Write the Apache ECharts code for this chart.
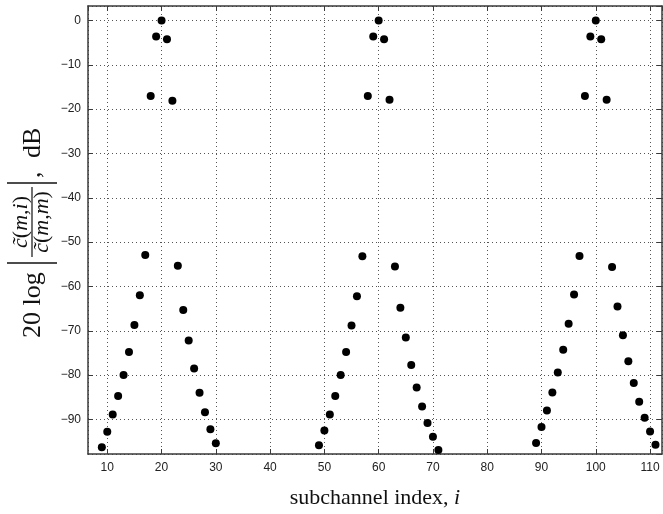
<!DOCTYPE html>
<html>
<head>
<meta charset="utf-8">
<script src="https://cdn.jsdelivr.net/npm/echarts@6/dist/echarts.min.js"></script>
<style>
html,body{margin:0;padding:0;background:#fff;}
#chart{width:663px;height:514px;}
</style>
</head>
<body>
<div id="chart"></div>
<script>
// subchannel indices and normalised levels (dB)
var group1Index = [9,10,11,12,13,14,15,16,17,18,19,20,21,22,23,24,25,26,27,28,29,30];
var group1Level = [-96.3,-92.8,-88.9,-84.7,-80.0,-74.8,-68.7,-62.0,-52.9,-17.0,-3.6,0,-4.2,-18.1,-55.3,-65.3,-72.2,-78.5,-84.0,-88.4,-92.2,-95.4];

var group2Index = [49,50,51,52,53,54,55,56,57,58,59,60,61,62,63,64,65,66,67,68,69,70,71];
var group2Level = [-95.8,-92.5,-88.9,-84.7,-80.0,-74.8,-68.8,-62.2,-53.2,-17.0,-3.6,0,-4.2,-17.9,-55.5,-64.8,-71.5,-77.7,-82.8,-87.1,-90.8,-93.9,-96.9];

var group3Index = [89,90,91,92,93,94,95,96,97,98,99,100,101,102,103,104,105,106,107,108,109,110,111];
var group3Level = [-95.3,-91.7,-88.0,-83.9,-79.4,-74.3,-68.4,-61.8,-53.1,-17.0,-3.6,0,-4.2,-17.9,-55.6,-64.5,-71.0,-76.9,-81.8,-86.0,-89.6,-92.7,-95.7];

var xTickLabels = ['10','20','30','40','50','60','70','80','90','100','110'];
var yTickLabels = ['0','\u221210','\u221220','\u221230','\u221240','\u221250','\u221260','\u221270','\u221280','\u221290'];

function pairs(xs, ys) {
  var out = [];
  for (var k = 0; k < xs.length; k++) out.push([xs[k], ys[k]]);
  return out;
}
var points = pairs(group1Index, group1Level)
  .concat(pairs(group2Index, group2Level))
  .concat(pairs(group3Index, group3Level));

var X_MIN = 6.45, X_MAX = 112.2, Y_MIN = -97.8, Y_MAX = 3.28;
var frameColor = '#3a3a3a';
var serif = '"Liberation Serif", "DejaVu Serif", serif';
var sans = '"Liberation Sans", Arial, sans-serif';

function fmtY(v) {
  var r = Math.round(v);
  if (Math.abs(v - r) > 1e-6) return '';
  return r < 0 ? '\u2212' + Math.abs(r) : String(r);
}
function fmtX(v) {
  var r = Math.round(v);
  if (Math.abs(v - r) > 1e-6) return '';
  return String(r);
}

var chart = echarts.init(document.getElementById('chart'), null, {renderer: 'canvas'});

var baseX = {
  type: 'value', min: X_MIN, max: X_MAX, minInterval: 10, maxInterval: 10,
  axisLine: {show: true, onZero: false, lineStyle: {color: frameColor, width: 1.5}},
  axisTick: {show: true, inside: true, length: 5, lineStyle: {color: frameColor, width: 1}},
  splitLine: {show: false}
};
var baseY = {
  type: 'value', min: Y_MIN, max: Y_MAX, minInterval: 10, maxInterval: 10,
  axisLine: {show: true, onZero: false, lineStyle: {color: frameColor, width: 1.5}},
  axisTick: {show: true, inside: true, length: 5, lineStyle: {color: frameColor, width: 1}},
  splitLine: {show: false}
};

var option = {
  backgroundColor: '#fff',
  animation: false,
  grid: {left: 88, right: 1, top: 6, bottom: 55, containLabel: false},
  xAxis: [
    Object.assign({}, baseX, {
      position: 'bottom',
      name: 'subchannel index, {it|i}',
      nameLocation: 'middle',
      nameGap: 33,
      nameTextStyle: {
        fontFamily: serif, fontSize: 22, color: '#111',
        rich: {it: {fontFamily: serif, fontSize: 22, fontStyle: 'italic', color: '#111'}}
      },
      axisLabel: {
        show: true, margin: 8, color: '#222', fontFamily: sans, fontSize: 12,
        showMinLabel: false, showMaxLabel: false, formatter: fmtX
      },
      splitLine: {show: true, lineStyle: {color: '#555', width: 1, type: [1, 3]}}
    }),
    Object.assign({}, baseX, {position: 'top', axisLabel: {show: false}})
  ],
  yAxis: [
    Object.assign({}, baseY, {
      position: 'left',
      axisLabel: {
        show: true, margin: 7, color: '#222', fontFamily: sans, fontSize: 12,
        showMinLabel: false, showMaxLabel: false, formatter: fmtY
      },
      splitLine: {show: true, lineStyle: {color: '#555', width: 1, type: [1, 3]}}
    }),
    Object.assign({}, baseY, {position: 'right', axisLabel: {show: false}})
  ],
  graphic: [{
    type: 'group',
    x: 0, y: 338,
    rotation: Math.PI / 2,
    silent: true,
    children: [
      {type: 'text', x: 0, y: 33, style: {text: '20 log', fontFamily: serif, fontSize: 26, fill: '#111', align: 'left', verticalAlign: 'middle'}},
      {type: 'line', shape: {x1: 75, y1: 7, x2: 75, y2: 57}, style: {stroke: '#111', lineWidth: 1.3}},
      {type: 'text', x: 116, y: 21, style: {
        text: '{it|c\u0303}({it|m},{it|i})', fontFamily: serif, fontSize: 22, fill: '#111', align: 'center', verticalAlign: 'middle',
        rich: {it: {fontFamily: serif, fontSize: 22, fontStyle: 'italic', fill: '#111'}}
      }},
      {type: 'line', shape: {x1: 81, y1: 32, x2: 151, y2: 32}, style: {stroke: '#111', lineWidth: 1.2}},
      {type: 'text', x: 116, y: 42, style: {
        text: '{it|c\u0303}({it|m},{it|m})', fontFamily: serif, fontSize: 22, fill: '#111', align: 'center', verticalAlign: 'middle',
        rich: {it: {fontFamily: serif, fontSize: 22, fontStyle: 'italic', fill: '#111'}}
      }},
      {type: 'line', shape: {x1: 155, y1: 7, x2: 155, y2: 57}, style: {stroke: '#111', lineWidth: 1.3}},
      {type: 'text', x: 160, y: 33, style: {text: ',', fontFamily: serif, fontSize: 26, fill: '#111', align: 'left', verticalAlign: 'middle'}},
      {type: 'text', x: 180, y: 33, style: {text: 'dB', fontFamily: serif, fontSize: 26, fill: '#111', align: 'left', verticalAlign: 'middle'}}
    ]
  }],
  series: [{
    type: 'scatter',
    xAxisIndex: 0, yAxisIndex: 0,
    symbol: 'circle',
    symbolSize: 8,
    itemStyle: {color: '#000', opacity: 1},
    data: points
  }]
};
chart.setOption(option);
</script>
</body>
</html>
